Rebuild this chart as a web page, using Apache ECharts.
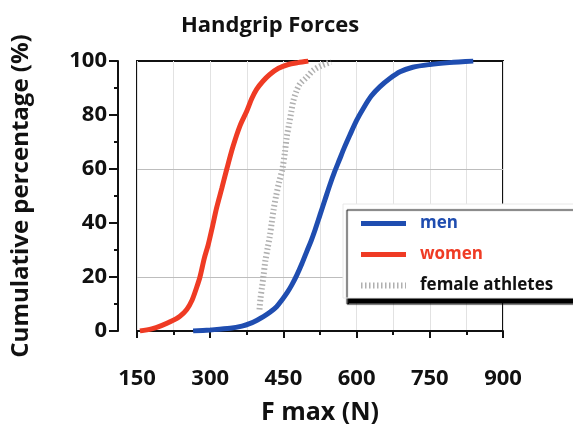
<!DOCTYPE html>
<html>
<head>
<meta charset="utf-8">
<script src="https://cdn.jsdelivr.net/npm/echarts@6/dist/echarts.min.js"></script>
<style>
html,body{margin:0;padding:0;background:#fff;}
#chart{width:573px;height:437px;}
</style>
</head>
<body>
<div id="chart"></div>
<script>
var chartTitle = 'Handgrip Forces';
var xAxisTitle = 'F max (N)';
var yAxisTitle = 'Cumulative percentage (%)';
var seriesNames = ['men', 'women', 'female athletes'];
var xTicks = [150, 300, 450, 600, 750, 900];
var yTicks = [0, 20, 40, 60, 80, 100];
var yGridValues = [20, 60];

var men = [[265,0],[300,0.4],[341,1],[365,1.8],[382,2.8],[396,4],[409,5.3],[423,7],[436,9],[447,11.5],[457,14],[467,17],[477,20.5],[488,25],[498,29.5],[507,33.5],[515,37.5],[525,43],[535,48.5],[545,54],[555,59],[565,63.5],[575,68],[586,72.5],[600,78],[614,82.5],[630,87],[648,90.5],[668,93.5],[689,96],[715,97.7],[750,98.7],[790,99.4],[839,100]];
var women = [[156,0],[180,0.8],[200,2],[220,3.6],[238,5.5],[252,8],[263,11.5],[272,16],[279,20],[288,27],[296,32],[305,39],[313,45.5],[324,53],[334,60],[347,68.5],[361,76],[375,81.5],[385,86],[395,89.5],[408,92.5],[422,95],[440,97.3],[460,98.7],[480,99.4],[501,100]];
var athletes = [[401,8],[403,12],[406,16],[409,20],[413,26],[418,31],[422,35],[426,40],[430,45],[435,50],[441,55],[448,60],[453,66],[457,72],[462,77],[466,81],[470,85],[477,89],[484,91.5],[498,94],[511,96.5],[528,98.3],[548,99.6]];

var BLUE = '#1f4db0', RED = '#ef3b24', GRAY = '#b0b0b0';
var FONT = '"Open Sans", "DejaVu Sans", sans-serif';
var DASH = [1.5, 2.5];

var chart = echarts.init(document.getElementById('chart'), null, {renderer: 'canvas'});
chart.setOption({
  animation: false,
  backgroundColor: '#fff',
  title: {
    text: chartTitle,
    left: 176, top: 10,
    textStyle: {fontFamily: FONT, fontWeight: 'bold', fontSize: 22, color: '#111'}
  },
  grid: {
    left: 137, right: 70, top: 61, bottom: 106,
    show: true, borderColor: '#111', borderWidth: 2, backgroundColor: 'transparent'
  },
  xAxis: {
    type: 'value', min: xTicks[0], max: xTicks[xTicks.length - 1], interval: 150,
    offset: 21,
    name: xAxisTitle, nameLocation: 'middle', nameGap: 48,
    nameTextStyle: {fontFamily: FONT, fontWeight: 'bold', fontSize: 25, color: '#111'},
    axisLine: {show: true, lineStyle: {color: '#111', width: 2}},
    axisTick: {show: true, length: 7, lineStyle: {color: '#111', width: 2}},
    minorTick: {show: true, splitNumber: 2, length: 4, lineStyle: {color: '#111', width: 2}},
    axisLabel: {fontFamily: FONT, fontWeight: 'bold', fontSize: 22, color: '#111', margin: 16},
    splitLine: {show: true, lineStyle: {color: '#e2e2e2', width: 1}},
    minorSplitLine: {show: true, lineStyle: {color: '#e2e2e2', width: 1}}
  },
  yAxis: {
    type: 'value', min: yTicks[0], max: yTicks[yTicks.length - 1], interval: 20,
    offset: 19,
    name: yAxisTitle, nameLocation: 'middle', nameGap: 85, nameRotate: 90,
    nameTextStyle: {fontFamily: FONT, fontWeight: 'bold', fontSize: 24, color: '#111'},
    axisLine: {show: true, lineStyle: {color: '#111', width: 2}},
    axisTick: {show: true, length: 9, lineStyle: {color: '#111', width: 2}},
    minorTick: {show: true, splitNumber: 2, length: 4, lineStyle: {color: '#111', width: 2}},
    axisLabel: {fontFamily: FONT, fontWeight: 'bold', fontSize: 22, color: '#111', margin: 11},
    splitLine: {show: false}
  },
  legend: {
    orient: 'vertical',
    left: 343, top: 204,
    padding: [11, 40, 4, 15],
    itemWidth: 45, itemHeight: 14, itemGap: 14,
    backgroundColor: '#fff',
    borderColor: '#e8e8e8', borderWidth: 1,
    shadowColor: '#000', shadowBlur: 1, shadowOffsetX: 4, shadowOffsetY: 6,
    itemStyle: {opacity: 0},
    textStyle: {fontFamily: FONT, fontWeight: 'bold', fontSize: 17, color: '#111', padding: [0, 0, 0, 9], lineHeight: 16},
    data: [
      {name: seriesNames[0], textStyle: {color: BLUE}, lineStyle: {color: BLUE, width: 5}},
      {name: seriesNames[1], textStyle: {color: RED}, lineStyle: {color: RED, width: 5}},
      {name: seriesNames[2], textStyle: {color: '#111'}, lineStyle: {color: GRAY, width: 6, type: DASH}}
    ]
  },
  series: [
    {
      name: seriesNames[2], type: 'line', data: athletes, smooth: 0.3,
      showSymbol: false, symbol: 'none',
      lineStyle: {color: GRAY, width: 6, type: DASH},
      itemStyle: {color: GRAY},
      z: 2
    },
    {
      name: seriesNames[0], type: 'line', data: men, smooth: 0.3,
      showSymbol: false, symbol: 'none',
      lineStyle: {color: BLUE, width: 5},
      itemStyle: {color: BLUE},
      z: 3
    },
    {
      name: seriesNames[1], type: 'line', data: women, smooth: 0.3,
      showSymbol: false, symbol: 'none',
      lineStyle: {color: RED, width: 5},
      itemStyle: {color: RED},
      z: 3,
      markLine: {
        silent: true, symbol: 'none', label: {show: false},
        lineStyle: {color: '#bdbdbd', width: 1, type: 'solid'},
        data: yGridValues.map(function (v) { return {yAxis: v}; }),
        z: 1
      }
    }
  ]
});
</script>
</body>
</html>
